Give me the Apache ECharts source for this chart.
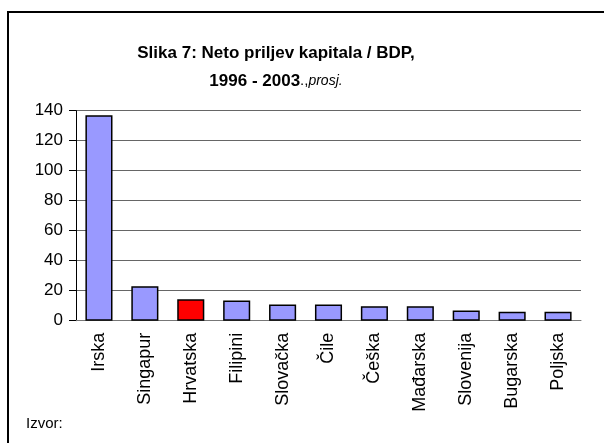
<!DOCTYPE html>
<html>
<head>
<meta charset="utf-8">
<script src="https://cdn.jsdelivr.net/npm/echarts@6/dist/echarts.min.js"></script>
<style>
html,body{margin:0;padding:0;background:#fff;}
#c{width:604px;height:443px;}
</style>
</head>
<body>
<div id="c"></div>
<script>
const categories = ["Irska","Singapur","Hrvatska","Filipini","Slovačka","Čile","Češka","Mađarska","Slovenija","Bugarska","Poljska"];
const values = [137, 23, 14.3, 13.4, 10.8, 10.8, 9.7, 9.7, 6.8, 5.9, 5.9];
const highlight = "Hrvatska";
const yTicks = [0, 20, 40, 60, 80, 100, 120, 140];

const FONT = "Arial, 'Liberation Sans', sans-serif";
const chart = echarts.init(document.getElementById('c'), null, {renderer: 'canvas'});
chart.setOption({
  animation: false,
  backgroundColor: '#ffffff',
  graphic: [
    {type: 'rect', shape: {x: 8, y: 12, width: 800, height: 600}, style: {fill: 'none', stroke: '#000', lineWidth: 2}, z: 100},
    {type: 'text', left: 26, top: 416, style: {text: 'Izvor:', font: '15px ' + FONT, fill: '#000'}}
  ],
  title: {
    text: '{a|Slika 7: Neto priljev kapitala / BDP,}\n{a|1996 - 2003}{b|.,}{c|prosj.}',
    left: 271, top: 34, textAlign: 'center',
    textStyle: {
      fontWeight: 'normal',
      rich: {
        a: {fontFamily: FONT, fontWeight: 'bold', fontSize: 17, lineHeight: 28, color: '#000'},
        b: {fontFamily: FONT, fontWeight: 'normal', fontSize: 15, lineHeight: 28, color: '#000'},
        c: {fontFamily: FONT, fontWeight: 'normal', fontStyle: 'italic', fontSize: 14, lineHeight: 28, color: '#000'}
      }
    }
  },
  grid: {left: 76, right: 23, top: 110.7, bottom: 122.3},
  xAxis: {
    type: 'category',
    data: categories,
    axisLine: {lineStyle: {color: '#777', width: 1}},
    axisTick: {show: false},
    axisLabel: {rotate: 90, fontFamily: FONT, fontSize: 18, color: '#000', margin: 12, interval: 0}
  },
  yAxis: {
    type: 'value', min: 0, max: 140, interval: 20,
    axisLine: {show: true, lineStyle: {color: '#000', width: 1}},
    axisTick: {show: true, length: 7, lineStyle: {color: '#000'}},
    splitLine: {lineStyle: {color: '#666', width: 1}},
    axisLabel: {fontFamily: FONT, fontSize: 17, color: '#000', margin: 13,
      formatter: v => yTicks.includes(v) ? String(v) : ''}
  },
  series: [{
    type: 'bar',
    barCategoryGap: '41%',
    data: categories.map((c, i) => ({
      value: values[i],
      itemStyle: {color: c === highlight ? '#FF0000' : '#9999FF', borderColor: '#000', borderWidth: 1.5}
    }))
  }]
});
</script>
</body>
</html>
